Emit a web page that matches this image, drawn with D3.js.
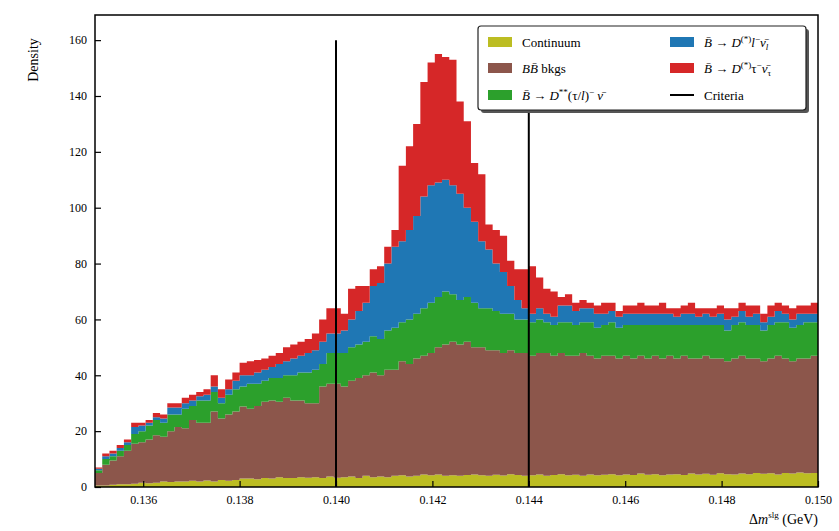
<!DOCTYPE html>
<html><head><meta charset="utf-8">
<script src="https://cdn.jsdelivr.net/npm/d3@7"></script>
<style>body{margin:0;background:#fff}</style>
</head><body><svg id="c" width="839" height="531" style="font-family:'Liberation Serif','Times New Roman','DejaVu Serif',serif"></svg>
<script>
const binStart=0.135, binWidth=0.00015;
const continuum=[0.5,0.5,0.8,1,1,1.2,1.5,1.3,1.5,2, 1.8,2,2,2.2,2,2.3,2,2.5,2.2,2.5, 3,3,2.8,3.2,3,3.5,3.2,3.2,3.5,3.3, 3.5,3.2,3.8,3.3,3.5,3.8,3.2,4,3.5,3.8, 3.5,4,4.2,3.8,4,4.5,4.2,4.5,4,4.2, 4,4.3,4.5,4.2,4,4.4,4.1,4.6,4.3,4, 4.2,4.5,4,4.3,4.6,4.2,4.4,4,4.5,4.2, 4.4,4.6,4.2,4.5,4.3,4.8,4.4,4.6,4.2,4.5, 4.6,4.3,4.8,4.5,4.7,4.4,4.9,4.6,4.5,4.8, 4.6,5,4.7,4.9,4.5,5,4.8,5.2,4.9,5];
const bbBkg=[4.5,7.5,8.7,10,12,14.3,14.5,15.7,17,16, 18.2,19.5,19,21.8,21,20.7,25,22,23.8,24.5, 25.8,25,26.2,27.3,28,27,28.8,27.8,27.5,26.7, 26.5,32.8,33.2,33.7,32.5,34.2,35.8,36,37.5,36.2, 38.5,38,40.8,40.2,42,42.5,43.8,45.5,47,47.8, 47,47.7,45.5,45.8,45,44.6,43.9,44.4,43.7,44, 42.8,43.5,44,42.7,43.4,42.8,42.6,44,42.5,41.8, 42.6,42.4,41.8,42.5,41.7,42.2,41.6,42.4,41.8,42.5, 41.4,42.7,41.2,41.5,42.3,41.6,41.1,40.4,41.5,42.2, 41.4,41,40.3,41.1,42.5,41,40.2,40.8,41.1,42];
const dss=[1,2,1.5,2,2,3.5,4,5,5.5,5, 6,4.5,7,5,8,8,7,5.5,7,8, 7.2,9,8,7.5,8,8.5,8,9,10,11, 12,8,11,11,12,12,12,12,13,13, 14,15,14,16,16,17,18,18,19,17, 16,16,16,14,15,14,14,13,12,12, 12,12,11,11,11,12,11,11,12,11, 11,12,11,11,12,11,12,11,12,11, 12,11,12,12,11,12,12,11,12,12, 12,12,11,12,12,13,12,12,13,12];
const dlnu=[0.5,1,1,1,1,2.5,2,1,1,1.5, 2.5,2.5,2,2,1.5,2,2,2,2,3, 4,3,4,4,4,5,5,6,6,7, 7,8,7,7,8,10,12,14,18,20, 24,29,29,32,35,40,42,41,40,39, 38,32,29,24,21,17,15,10,7,4, 3,4,3,3,6,6,5,5,5,5, 4,4,4,4,4,4,4,4,4,4, 3,4,4,3,4,3,4,4,3,4, 3,4,3,3,4,3,3,4,3,3];
const dtaunu=[0.5,1,1,1,1,1.5,1,1,1.5,1.5, 1.5,1.5,2,2,1.5,2,4,3,3.5,3, 4.5,5,4.5,4,4,4,5,5,5,5, 6,8,9,9,6,11,9,6,6,6, 6,6,27,30,33,41,44,46,44,45, 33,31,21,24,9,12,13,9,11,14, 17,11,9,9,3,4,3,3,2,3, 4,3,2,3,3,4,3,3,4,2, 3,3,4,3,2,3,3,4,3,3, 4,3,3,4,3,3,4,3,3,4];
const seriesNames=["Continuum","bb","dss","dl","dtau"];
const seriesValues=[continuum,bbBkg,dss,dlnu,dtaunu];
const colors=["#bcbd22","#8c564b","#2ca02c","#1f77b4","#d62728"];
const criteria=[0.140,0.144];
const yTicks=[0,20,40,60,80,100,120,140,160];
const xTicks=[0.136,0.138,0.140,0.142,0.144,0.146,0.148,0.150];

const svg=d3.select("#c");
const L=95,R=818,T=15,B=487;
const x=d3.scaleLinear().domain([0.135,0.150]).range([L,R]);
const y=d3.scaleLinear().domain([0,169]).range([B,T]);
const rows=continuum.map((_,i)=>{const o={i};seriesNames.forEach((n,k)=>o[n]=seriesValues[k][i]);return o;});
const stack=d3.stack().keys(seriesNames)(rows);
const area=d3.area().curve(d3.curveLinear).x(p=>x(p.x)).y0(p=>y(p.y0)).y1(p=>y(p.y1));
const g=svg.append("g");
stack.forEach((layer,k)=>{
  const pts=[];
  layer.forEach(d=>{const x0=binStart+d.data.i*binWidth;
    pts.push({x:x0,y0:d[0],y1:d[1]});pts.push({x:x0+binWidth,y0:d[0],y1:d[1]});});
  g.append("path").attr("d",area(pts)).attr("fill",colors[k]);
});
criteria.forEach(c=>svg.append("line").attr("x1",x(c)).attr("x2",x(c)).attr("y1",y(0)).attr("y2",y(160)).attr("stroke","#000").attr("stroke-width",2));
svg.append("rect").attr("x",L).attr("y",T).attr("width",R-L).attr("height",B-T).attr("fill","none").attr("stroke","#000").attr("stroke-width",1.5);
const xa=svg.append("g").attr("transform",`translate(0,${B})`).call(d3.axisBottom(x).tickValues(xTicks).tickSize(-6).tickPadding(8).tickFormat(d3.format(".3f")));
const ya=svg.append("g").attr("transform",`translate(${L},0)`).call(d3.axisLeft(y).tickValues(yTicks).tickSize(-6).tickPadding(8));
[xa,ya].forEach(a=>{a.attr("font-family",null);a.select(".domain").remove();a.selectAll("text").attr("font-size",12);a.selectAll("line").attr("stroke-width",1.2);});
svg.append("text").attr("transform","translate(38,60) rotate(-90)").attr("text-anchor","middle").attr("font-size",14).text("Density");
svg.append("text").attr("x",818).attr("y",524).attr("text-anchor","end").attr("font-size",14)
  .html('Δ<tspan font-style="italic">m</tspan><tspan font-size="9" dy="-6">slg</tspan><tspan dy="6"> (GeV)</tspan>');
const lg=svg.append("g");
lg.append("rect").attr("x",481).attr("y",29).attr("width",328).attr("height",84).attr("rx",3).attr("fill","#555");
lg.append("rect").attr("x",478).attr("y",26).attr("width",328).attr("height",84).attr("rx",3).attr("fill","#fff").attr("stroke","#222").attr("stroke-width",1.2);
const items=[
 {c:colors[0],h:'Continuum',px:488,py:42},
 {c:colors[1],h:'<tspan font-style="italic">BB̄</tspan> bkgs',px:488,py:68},
 {c:colors[2],h:'<tspan font-style="italic">B̄</tspan> → <tspan font-style="italic">D</tspan><tspan font-size="9" dy="-5">**</tspan><tspan dy="5">(τ/<tspan font-style="italic">l</tspan>)</tspan><tspan font-size="9" dy="-5">−</tspan><tspan dy="5"> </tspan><tspan font-style="italic">ν̄</tspan>',px:488,py:95},
 {c:colors[3],h:'<tspan font-style="italic">B̄</tspan> → <tspan font-style="italic">D</tspan><tspan font-size="9" dy="-5">(*)</tspan><tspan dy="5" font-style="italic">l</tspan><tspan font-size="9" dy="-5">−</tspan><tspan dy="5" font-style="italic">ν̄</tspan><tspan font-size="9" dy="3" font-style="italic">l</tspan>',px:670,py:42},
 {c:colors[4],h:'<tspan font-style="italic">B̄</tspan> → <tspan font-style="italic">D</tspan><tspan font-size="9" dy="-5">(*)</tspan><tspan dy="5">τ</tspan><tspan font-size="9" dy="-5">−</tspan><tspan dy="5" font-style="italic">ν̄</tspan><tspan font-size="9" dy="3">τ</tspan>',px:670,py:68},
 {c:null,h:'Criteria',px:670,py:95}];
items.forEach(it=>{
  if(it.c) lg.append("rect").attr("x",it.px).attr("y",it.py-5).attr("width",24).attr("height",10).attr("fill",it.c);
  else lg.append("line").attr("x1",it.px).attr("x2",it.px+24).attr("y1",it.py).attr("y2",it.py).attr("stroke","#000").attr("stroke-width",2);
  lg.append("text").attr("x",it.px+34).attr("y",it.py+5).attr("font-size",13).html(it.h);
});
</script></body></html>
